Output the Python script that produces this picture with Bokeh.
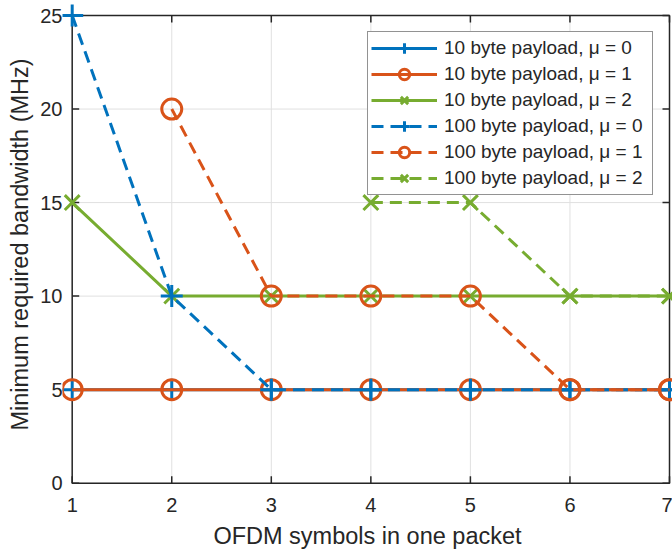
import numpy as np
from bokeh.plotting import figure
from bokeh.models import Range1d, FixedTicker, Legend, LegendItem
from bokeh.embed import file_html
from bokeh.resources import INLINE

nan = float("nan")

# ---- data ----
symbols = [1, 2, 3, 4, 5, 6, 7]
bw_10_mu0 = [5, 5, 5, 5, 5, 5, 5]
bw_10_mu1 = [5, 5, 5, 5, 5, 5, 5]
bw_10_mu2 = [15, 10, 10, 10, 10, 10, 10]
bw_100_mu0 = [25, 10, 5, 5, 5, 5, 5]
bw_100_mu1 = [nan, 20, 10, 10, 10, 5, 5]
bw_100_mu2 = [nan, nan, nan, 15, 15, 10, 10]
series_labels = [
    "10 byte payload, μ = 0",
    "10 byte payload, μ = 1",
    "10 byte payload, μ = 2",
    "100 byte payload, μ = 0",
    "100 byte payload, μ = 1",
    "100 byte payload, μ = 2",
]
x_ticks = [1, 2, 3, 4, 5, 6, 7]
y_ticks = [0, 5, 10, 15, 20, 25]
x_lim = (1, 7)
y_lim = (0, 25)
x_label = "OFDM symbols in one packet"
y_label = "Minimum required bandwidth (MHz)"

# ---- style ----
AX = "#262626"
GRID = "#e0e0e0"
BLUE, ORANGE, GREEN = "#0072BD", "#D95319", "#77AC30"
FONT = "Liberation Sans"

W, H = 672, 551
BL, BB = 62, 63
FW, FH = W - BL, H - BB
# where the axis limits sit inside the figure (pixels)
XL_PX, XR_PX = 71.7, 669.0
YT_PX, YB_PX = 15.0, 482.7
sx = (XR_PX - XL_PX) / (x_lim[1] - x_lim[0])
x_start = x_lim[0] - (XL_PX - BL) / sx
x_end = x_start + FW / sx
sy = (YB_PX - YT_PX) / (y_lim[1] - y_lim[0])
y_end = y_lim[1] + YT_PX / sy
y_start = y_end - FH / sy

p = figure(width=W, height=H, output_backend="svg", toolbar_location=None,
           x_range=Range1d(x_start, x_end), y_range=Range1d(y_start, y_end),
           min_border_left=BL, min_border_bottom=BB, min_border_top=0, min_border_right=0)
p.outline_line_color = None
p.background_fill_color = "white"
p.border_fill_color = "white"
p.xgrid.grid_line_color = None
p.ygrid.grid_line_color = None

for ax, ticks in ((p.xaxis[0], x_ticks), (p.yaxis[0], y_ticks)):
    ax.ticker = FixedTicker(ticks=ticks)
    ax.axis_line_color = None
    ax.major_tick_line_color = None
    ax.minor_tick_line_color = None
    ax.major_tick_in = 0
    ax.major_tick_out = 0
    ax.major_label_text_font = FONT
    ax.major_label_text_font_size = "20px"
    ax.major_label_text_color = AX
    ax.axis_label_text_font = FONT
    ax.axis_label_text_font_size = "23.5px"
    ax.axis_label_text_font_style = "normal"
    ax.axis_label_text_color = AX
p.xaxis.axis_label = x_label
p.yaxis.axis_label = y_label
p.xaxis.major_label_standoff = 9
p.xaxis.axis_label_standoff = 8
p.yaxis.major_label_standoff = 0
p.yaxis.axis_label_standoff = 4

# grid lines inside the box
p.segment(x0=x_ticks, y0=[y_lim[0]] * len(x_ticks), x1=x_ticks, y1=[y_lim[1]] * len(x_ticks),
          line_color=GRID, line_width=1)
p.segment(x0=[x_lim[0]] * len(y_ticks), y0=y_ticks, x1=[x_lim[1]] * len(y_ticks), y1=y_ticks,
          line_color=GRID, line_width=1)
# axes box
p.quad(left=[x_lim[0]], right=[x_lim[1]], bottom=[y_lim[0]], top=[y_lim[1]],
       fill_color=None, line_color=AX, line_width=1.5)
# inward ticks
TL = 7
p.ray(x=x_ticks, y=[y_lim[0]] * len(x_ticks), length=TL, length_units="screen",
      angle=np.pi / 2, line_color=AX, line_width=1.5)
p.ray(x=x_ticks, y=[y_lim[1]] * len(x_ticks), length=TL, length_units="screen",
      angle=-np.pi / 2, line_color=AX, line_width=1.5)
p.ray(x=[x_lim[0]] * len(y_ticks), y=y_ticks, length=TL, length_units="screen",
      angle=0, line_color=AX, line_width=1.5)
p.ray(x=[x_lim[1]] * len(y_ticks), y=y_ticks, length=TL, length_units="screen",
      angle=np.pi, line_color=AX, line_width=1.5)

series = [
    (bw_10_mu0, BLUE, "solid", "cross", 22),
    (bw_10_mu1, ORANGE, "solid", "circle", 20),
    (bw_10_mu2, GREEN, "solid", "x", 21),
    (bw_100_mu0, BLUE, "12 7", "cross", 22),
    (bw_100_mu1, ORANGE, "12 7", "circle", 20),
    (bw_100_mu2, GREEN, "12 7", "x", 21),
]
items = []
for (ys, col, dash, mk, sz), lab in zip(series, series_labels):
    lr = p.line(symbols, ys, line_color=col, line_width=3, line_dash=dash)
    sr = p.scatter(symbols, ys, marker=mk, size=sz, fill_color=None,
                   line_color=col, line_width=3)
    items.append(LegendItem(label=lab, renderers=[lr, sr]))

# legend: box 367..652 x 33..195 (page pixels)
legend = Legend(items=items, location=(305, 293),
                glyph_width=66, glyph_height=26, label_height=20, spacing=0, padding=3,
                label_standoff=7, label_width=205,
                label_text_font=FONT, label_text_font_size="19px", label_text_color=AX,
                border_line_color=AX, border_line_width=1.3,
                background_fill_color="white", background_fill_alpha=1.0)
p.add_layout(legend)

open("out.html", "w").write(file_html(p, INLINE))
